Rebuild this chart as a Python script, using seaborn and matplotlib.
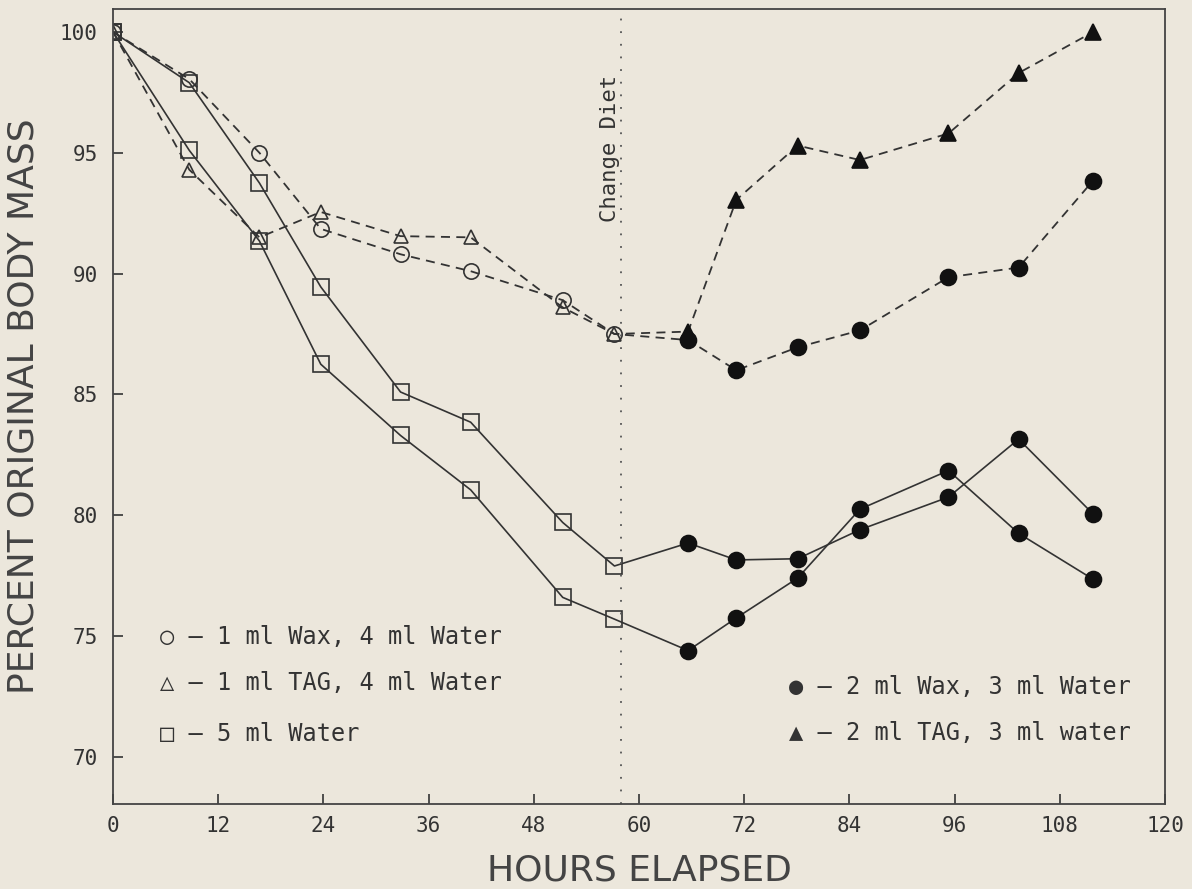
import matplotlib
matplotlib.use("Agg")
import pandas as pd
import seaborn as sns
from matplotlib import pyplot as plt

# Hours and percent of original body mass
hours_pre = [0, 8.7, 16.7, 23.7, 32.8, 40.8, 51.3, 57.2]
hours_post = [65.6, 71.1, 78.1, 85.2, 95.3, 103.3, 111.8]

wax1_pre = [100, 98.05, 95.0, 91.85, 90.8, 90.1, 88.9, 87.5]
tag1_pre = [100, 94.3, 91.5, 92.55, 91.55, 91.5, 88.6, 87.5]
waterA_pre = [100, 97.9, 93.75, 89.45, 85.1, 83.85, 79.7, 77.9]
waterB_pre = [100, 95.1, 91.35, 86.25, 83.3, 81.05, 76.6, 75.7]

wax1_post = [87.25, 86.0, 86.95, 87.65, 89.85, 90.25, 93.85]
tag1_post = [87.6, 93.05, 95.3, 94.7, 95.8, 98.3, 100.0]
waterA_post = [78.85, 78.15, 78.2, 79.4, 80.75, 83.15, 80.05]
waterB_post = [74.4, 75.75, 77.4, 80.25, 81.85, 79.25, 77.35]

legend_left = ["\u25cb \u2013 1 ml Wax, 4 ml Water",
               "\u25b3 \u2013 1 ml TAG, 4 ml Water",
               "\u25a1 \u2013 5 ml Water"]
legend_right = ["\u25cf \u2013 2 ml Wax, 3 ml Water",
                "\u25b2 \u2013 2 ml TAG, 3 ml water"]

ink = "#333333"
paper = "#ECE7DC"

# Long table: one row per point
rows = []
series = [
    ("wax1", "dashed", "o", wax1_pre, "o", wax1_post),
    ("tag1", "dashed", "^", tag1_pre, "^", tag1_post),
    ("waterA", "solid", "s", waterA_pre, "o", waterA_post),
    ("waterB", "solid", "s", waterB_pre, "o", waterB_post),
]
for name, ls, m_pre, pre, m_post, post in series:
    for h, v in zip(hours_pre, pre):
        rows.append({"series": name, "line": ls, "marker": m_pre, "filled": False, "hours": h, "mass": v})
    for h, v in zip(hours_post, post):
        rows.append({"series": name, "line": ls, "marker": m_post, "filled": True, "hours": h, "mass": v})
df = pd.DataFrame(rows)

sns.set_theme(style="ticks")
plt.rcParams["font.family"] = ["DejaVu Sans Mono", "DejaVu Sans"]

fig = plt.figure(figsize=(11.92, 8.89), dpi=100)
fig.patch.set_facecolor(paper)
ax = fig.add_axes([113 / 1192, 1 - 804 / 889, 1052 / 1192, 795 / 889])
ax.set_facecolor(paper)

# Connecting lines
sns.lineplot(data=df[df["line"] == "dashed"], x="hours", y="mass", units="series",
             estimator=None, sort=False, color=ink, lw=1.3,
             linestyle=(0, (5, 3.5)), ax=ax)
sns.lineplot(data=df[df["line"] == "solid"], x="hours", y="mass", units="series",
             estimator=None, sort=False, color=ink, lw=1.2, ax=ax)

# Markers
sizes = {"o": 11, "^": 10.5, "s": 12}
for (m, filled), sub in df.groupby(["marker", "filled"]):
    ms = sizes[m] + (0.5 if filled else 0)
    sns.lineplot(data=sub, x="hours", y="mass", units="series", estimator=None,
                 sort=False, linestyle="none", marker=m, ms=ms, mew=1.2,
                 mec=ink if not filled else "#111111",
                 mfc="#111111" if filled else "none", color=ink, ax=ax)

# Diet change marker
ax.axvline(58, color="#555555", lw=1.3, linestyle=(0, (1, 6)))
ax.text(56.7, 95.2, "Change Diet", rotation=90, ha="center", va="center",
        fontsize=16, color=ink)

ax.set_xlim(0, 120)
ax.set_ylim(68.05, 100.95)
ax.set_xticks(range(0, 121, 12))
ax.set_yticks(range(70, 101, 5))
ax.tick_params(direction="in", length=7, width=1.2, color=ink, labelcolor=ink,
               labelsize=15)
ax.tick_params(axis="x", pad=9)
ax.tick_params(axis="y", pad=11)
for sp in ax.spines.values():
    sp.set_color("#444444")
    sp.set_linewidth(1.3)

ax.set_xlabel("HOURS ELAPSED", fontsize=26, family="DejaVu Sans", color="#444444",
              labelpad=12)
ax.set_ylabel("PERCENT ORIGINAL BODY MASS", fontsize=26, family="DejaVu Sans",
              color="#444444", labelpad=14)

for i, t in enumerate(legend_left):
    ax.text(0.045, [0.210, 0.152, 0.088][i], t, transform=ax.transAxes,
            ha="left", va="center", fontsize=17, color=ink)
for i, t in enumerate(legend_right):
    ax.text(0.643, [0.147, 0.089][i], t, transform=ax.transAxes,
            ha="left", va="center", fontsize=17, color=ink)

plt.savefig("out.png", dpi=100, facecolor=paper)
